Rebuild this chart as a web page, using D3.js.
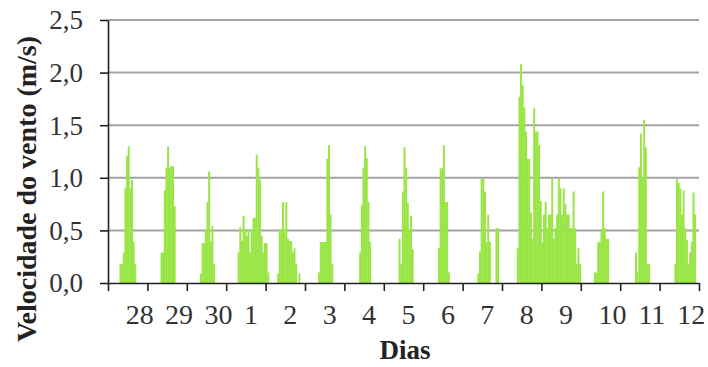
<!DOCTYPE html>
<html><head><meta charset="utf-8">
<script src="https://cdn.jsdelivr.net/npm/d3@7"></script>
<style>html,body{margin:0;padding:0;background:#fff;} svg{display:block;}</style>
</head><body>
<svg id="c" width="708" height="367"></svg>
<script>
// Day labels (one category band per day)
const dias = ["28","29","30","1","2","3","4","5","6","7","8","9","10","11","12"];
const horasPorDia = 24;
const yTicks = [0, 0.5, 1.0, 1.5, 2.0, 2.5];
// Hourly wind speed (m/s), 24 values per day, in the order of `dias`
const velocidade = [
  0,0,0,0,0,0,0, 0.18,0.18,0.29,0.90,1.21,1.30,0.90,0.98,0.39,0.18, 0,0,0,0,0,0,0,          // 28
  0,0,0,0,0,0,0,0, 0.29,0.29,0.88,1.09,1.30,1.09,1.11,1.11,0.73, 0,0,0,0,0,0,0,            // 29
  0,0,0,0,0,0,0,0, 0.09,0.38,0.38,0.51,0.77,1.06,0.40,0.54,0.18, 0,0,0,0,0,0,0,            // 30
  0,0,0,0,0,0,0, 0.29,0.53,0.40,0.64,0.51,0.45,0.51,0.29,0.51,0.62,0.62,1.22,1.09,0.98,0.45,0.29,0.38, // 1
  0.38,0.10, 0,0,0,0,0, 0.09,0.51,0.51,0.77,0.51,0.77,0.42,0.40,0.40,0.29,0.33,0.18,0,0.09, 0,0,0,  // 2
  0,0,0,0,0,0,0,0, 0.10,0.39,0.39,0.39,0.39,1.18,1.31,0.65,0.18, 0,0,0,0,0,0,0,            // 3
  0,0,0,0,0,0,0,0,0, 0.29,0.74,1.09,1.30,1.19,0.77,0.39, 0,0,0,0,0,0,0,0,                  // 4
  0,0,0,0,0,0,0,0,0, 0.42,0.18,0.87,1.29,1.09,0.76,0.51,0.64,0.32, 0,0,0,0,0,0,            // 5
  0,0,0,0,0,0,0,0,0, 0.33,1.09,1.09,1.31,0.77,0.77,0.10, 0,0,0,0,0,0,0,0,                  // 6
  0,0,0,0,0,0,0,0,0, 0.09,0.30,0.99,0.99,0.87,0.39,0.65,0.39, 0,0,0, 0.52,0.52, 0,0,       // 7
  0,0,0,0,0,0,0,0,0, 0.33,1.77,2.08,1.88,1.67,1.44,1.18,1.18,0.67,0.42,1.66,1.44,1.44,1.31,0.78, // 8
  0.39,0.65,0.77,0.52,0.65,0.65,0.99,0.42,0.52,0.65,0.99,0.90,0.65,0.90,0.75,0.65,0.65,0.52,0.52,0.87,0.52,0.18,0.33,0.18, // 9
  0,0,0,0,0,0,0,0, 0.10,0.10,0.39,0.39,0.50,0.87,0.52,0.42,0.42, 0,0,0,0,0,0,0,            // 10
  0,0,0,0,0,0,0,0,0, 0.29,0.10,1.10,1.42,1.00,1.55,1.29,0.18,0.18, 0,0,0,0,0,0,            // 11
  0,0,0,0,0,0,0,0,0, 0.18,0.99,0.95,0.90,0.65,0.88,0.52,0.41,0.18,0.29,0.39,0.86,0.65, 0,0  // 12
];

const FONT = "'Liberation Serif', 'Times New Roman', 'DejaVu Serif', serif";
const plot = {left:108, right:699, top:20, bottom:283};
const nHoras = dias.length * horasPorDia;

const svg = d3.select("#c");
const x = d3.scaleLinear().domain([0, nHoras]).range([plot.left, plot.right]);
const y = d3.scaleLinear().domain([0, 2.5]).range([plot.bottom, plot.top]);
const band = d3.scaleBand().domain(dias).range([plot.left, plot.right]);
const fmt = v => d3.format(".1f")(v).replace(".", ",");

// gridlines
svg.append("g").selectAll("line").data(yTicks.filter(t => t > 0)).join("line")
  .attr("x1", plot.left).attr("x2", plot.right)
  .attr("y1", d => y(d)).attr("y2", d => y(d))
  .attr("stroke", "#a3a3a3").attr("stroke-width", 2);

// bars
svg.append("g").selectAll("rect")
  .data(velocidade.map((v, i) => ({v, i})).filter(d => d.v > 0))
  .join("rect")
  .attr("x", d => x(d.i))
  .attr("width", d => x(d.i + 1) - x(d.i) + 0.35)
  .attr("y", d => y(d.v))
  .attr("height", d => y(0) - y(d.v))
  .attr("fill", "#99e545");

// y axis
const gy = svg.append("g").attr("transform", `translate(${plot.left},0)`)
  .call(d3.axisLeft(y).tickValues(yTicks).tickSize(8).tickSizeOuter(0).tickPadding(17).tickFormat(fmt));
gy.select(".domain").attr("stroke", "#222").attr("stroke-width", 1.6);
gy.selectAll(".tick line").attr("stroke", "#222").attr("stroke-width", 1.6);
gy.selectAll("text").style("font-family", FONT).style("font-size", "27px").attr("fill", "#333").attr("dy", "0.33em");

// x axis
const gx = svg.append("g").attr("transform", `translate(0,${plot.bottom})`)
  .call(d3.axisBottom(x).tickValues(d3.range(0, nHoras + 1, horasPorDia)).tickSize(8).tickSizeOuter(0).tickFormat(""));
gx.select(".domain").attr("stroke", "#222").attr("stroke-width", 1.6);
gx.selectAll(".tick line").attr("stroke", "#222").attr("stroke-width", 1.6);

// day labels
svg.append("g").selectAll("text").data(dias).join("text")
  .attr("x", d => band(d) + band.bandwidth() / 2 + (d.length > 1 ? 12 : 5))
  .attr("y", 324)
  .attr("text-anchor", "middle")
  .style("font-family", FONT).style("font-size", "28px").attr("fill", "#333")
  .text(d => d);

// axis titles
svg.append("text")
  .attr("transform", "translate(36,189) rotate(-90)")
  .attr("text-anchor", "middle")
  .style("font-family", FONT).style("font-size", "28px").style("font-weight", "bold").attr("fill", "#222")
  .text("Velocidade do vento (m/s)");
svg.append("text")
  .attr("x", 405).attr("y", 359)
  .attr("text-anchor", "middle")
  .style("font-family", FONT).style("font-size", "27px").style("font-weight", "bold").attr("fill", "#222")
  .text("Dias");
</script>
</body></html>
